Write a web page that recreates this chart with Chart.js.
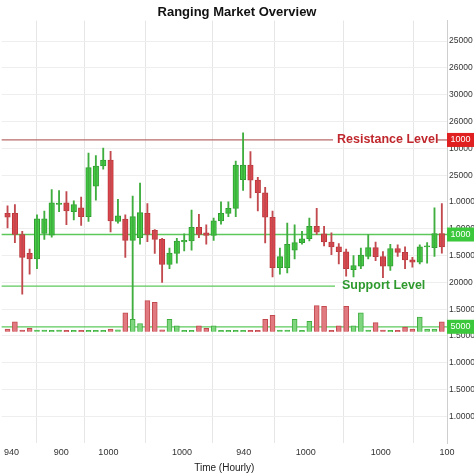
<!DOCTYPE html>
<html><head><meta charset="utf-8">
<script src="https://cdn.jsdelivr.net/npm/chart.js@4.4.1/dist/chart.umd.min.js"></script>
<style>html,body{margin:0;padding:0;background:#fff}#w{width:474px;height:474px}</style>
</head><body><div id="w"><canvas id="c"></canvas></div>
<script>
const opens  = [715,715,650,592,575,653,648,742,747,720,732,705,798,860,878,690,697,632,640,715,663,635,558,592,627,630,672,655,647,692,715,730,818,863,817,778,703,548,548,602,625,637,675,652,627,612,597,542,553,583,610,582,553,607,595,572,565,612,610,653];
const closes = [703,650,580,575,698,698,747,746,722,742,705,855,860,878,692,707,632,705,717,650,635,558,593,630,632,672,650,647,692,715,730,863,863,817,778,703,548,582,620,625,637,675,657,627,612,597,545,555,587,610,582,553,607,595,572,565,612,615,653,612];
const highs  = [738,742,660,605,710,722,788,785,782,753,765,900,892,915,905,758,710,768,808,745,665,638,608,638,652,725,712,680,700,750,750,875,962,904,825,795,722,608,685,680,660,700,730,675,655,622,605,585,608,650,627,598,620,618,612,580,618,625,732,745];
const lows   = [670,625,467,528,545,635,642,720,680,695,678,690,755,850,658,685,580,360,620,628,592,503,545,562,600,602,640,620,632,682,705,705,785,762,722,624,520,528,532,575,620,630,650,615,588,560,522,520,545,575,570,518,540,583,545,550,560,562,583,593];
const volumes= [8,30,5,10,5,5,4,5,4,4,4,4,4,4,8,6,58,38,25,95,90,6,38,18,4,4,18,10,18,4,4,4,4,4,4,38,50,5,5,38,4,32,80,78,4,18,78,18,58,5,28,5,4,4,14,8,45,8,8,30];
const xTickPos = [0.54,7.3,13.7,23.7,32.1,40.5,50.7,59.7];
const xTickLabels = ["940","900","1000","1000","940","1000","1000","100"];
const yTickLabels = ["1.0000","1.5000","1.0000","1.5000","1.5000","20000","1.5000","1.0000","1.0000","25000","10000","26000","30000","26000","25000"];
const yMinVal = 10, yStep = 82.2;
const resistance = 940, midLine = 650, support = 492, volLine = 367;

const idx = opens.map((_, i) => i);
const up = idx.map(i => closes[i] >= opens[i]);
const GREEN = '#45cf45', RED = '#e0484f', GW = '#3fae3f', RW = '#c24a4f';

const levels = {
  id: 'levels',
  beforeDatasetsDraw(ch) {
    const c = ch.ctx, y = ch.scales.y, a = ch.chartArea;
    const seg = (v, x1, x2, col) => { c.save(); c.strokeStyle = col; c.lineWidth = 1.3; c.beginPath(); c.moveTo(x1, y.getPixelForValue(v)); c.lineTo(x2, y.getPixelForValue(v)); c.stroke(); c.restore(); };
    seg(resistance, a.left, 333, '#b86a6a');
    seg(resistance, 437, a.right, '#b86a6a');
    seg(midLine, a.left, a.right, '#5cc85c');
    seg(support, a.left, 335, '#5cc85c');
    seg(volLine, a.left, a.right, '#5cc85c');
  },
  afterDraw(ch) {
    const c = ch.ctx, y = ch.scales.y, a = ch.chartArea;
    c.save();
    c.font = 'bold 12.5px "Liberation Sans", Arial, sans-serif';
    c.textBaseline = 'middle';
    c.fillStyle = '#c0282d'; c.fillText('Resistance Level', 337, y.getPixelForValue(resistance));
    c.fillStyle = '#2e9a2e'; c.fillText('Support Level', 342, y.getPixelForValue(support));
    const tag = (v, txt, col) => {
      const py = y.getPixelForValue(v);
      c.fillStyle = col; c.fillRect(a.right, py - 7, 474 - a.right, 14);
      c.fillStyle = '#fff'; c.font = '9px "Liberation Sans", Arial, sans-serif'; c.textAlign = 'center';
      c.fillText(txt, (a.right + 474) / 2, py);
    };
    tag(resistance, '1000', '#e02020');
    tag(midLine, '1000', '#3cc83c');
    tag(volLine, '5000', '#3cc83c');
    c.restore();
  }
};

new Chart(document.getElementById('c'), {
  type: 'bar',
  data: { datasets: [
    { yAxisID: 'yv', data: idx.map(i => ({x: i, y: volumes[i]})), backgroundColor: idx.map(i => up[i] ? '#7fd67f' : '#e07a80'), borderColor: idx.map(i => up[i] ? GW : RW), borderWidth: 1, barThickness: 5, grouped: false },
    { data: idx.map(i => ({x: i, y: [lows[i], highs[i]]})), backgroundColor: idx.map(i => up[i] ? GW : RW), barThickness: 1.2, grouped: false },
    { data: idx.map(i => ({x: i, y: [opens[i], closes[i]]})), backgroundColor: idx.map(i => up[i] ? GREEN : RED), borderColor: idx.map(i => up[i] ? '#2f9a2f' : '#b8363b'), borderWidth: 1, borderSkipped: false, barThickness: 5.5, grouped: false }
  ]},
  options: {
    animation: false, responsive: true, maintainAspectRatio: false,
    layout: { padding: { top: 0, bottom: 0, left: 0, right: 0 } },
    plugins: { legend: { display: false }, tooltip: { enabled: false },
      title: { display: true, text: 'Ranging Market Overview', color: '#111', font: { family: '"Liberation Sans", Arial', size: 13, weight: 'bold' }, padding: { top: 5, bottom: 0 } } },
    scales: {
      x: { type: 'linear', min: -0.8, max: 59.7, offset: false,
        afterBuildTicks: s => { s.ticks = xTickPos.map(v => ({value: v})); },
        ticks: { autoSkip: false, maxRotation: 0, color: '#333', font: { size: 9, family: '"Liberation Sans", Arial' }, padding: 4, callback: (v, i) => xTickLabels[i] },
        grid: { color: '#e6e6e6', drawTicks: false },
        border: { display: false },
        title: { display: true, text: 'Time (Hourly)', color: '#222', font: { size: 10, family: '"Liberation Sans", Arial' }, padding: 0 } },
      y: { position: 'right', min: yMinVal, max: 1306,
        afterBuildTicks: s => { s.ticks = yTickLabels.map((_, k) => ({value: yMinVal + yStep * (k + 1)})); },
        afterFit: s => { s.width = 27; },
        ticks: { color: '#333', font: { size: 8.5, family: '"Liberation Sans", Arial' }, padding: 2, callback: (v, i) => yTickLabels[i] },
        grid: { color: '#eeeeee', drawTicks: false },
        border: { color: '#cfcfcf' } },
      yv: { display: false, min: -342, max: 954 }
    }
  },
  plugins: [levels]
});
</script></body></html>
